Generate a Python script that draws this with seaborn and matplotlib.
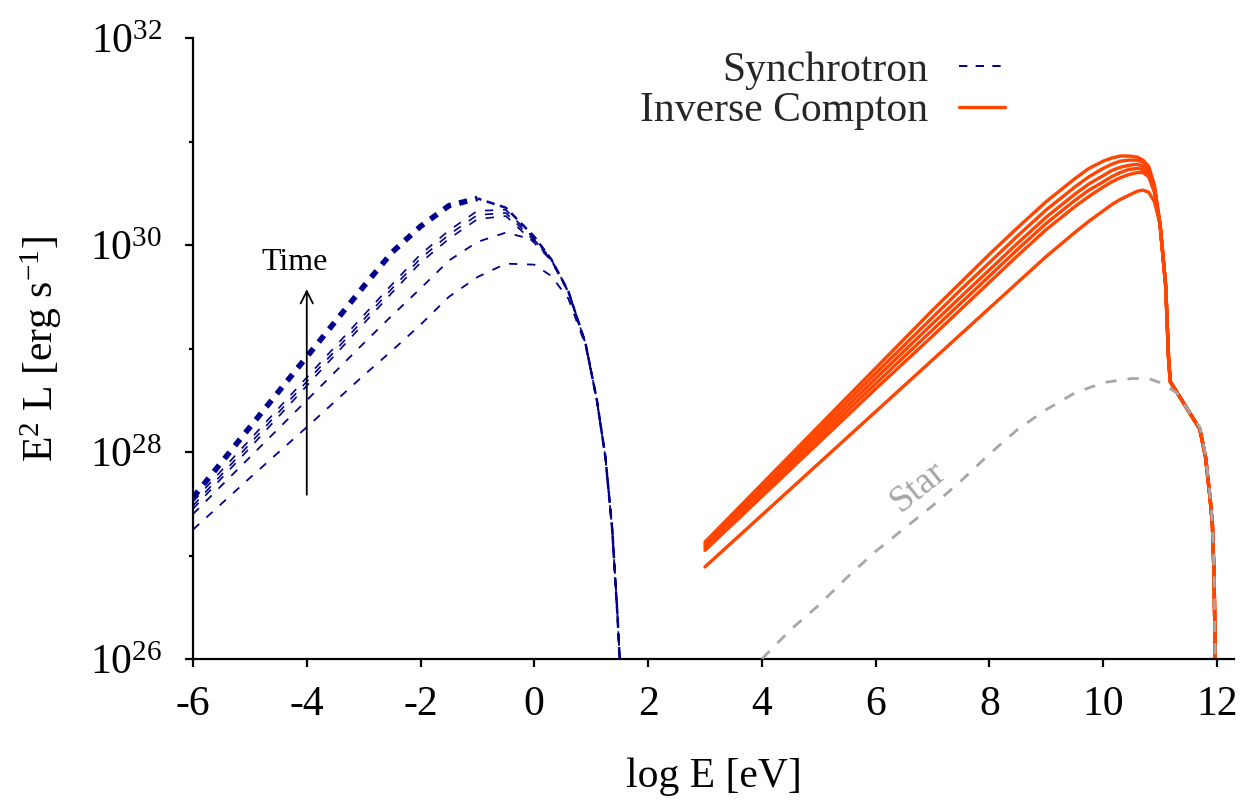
import numpy as np
import matplotlib
matplotlib.use("Agg")
import matplotlib.pyplot as plt
import seaborn as sns
from matplotlib.ticker import FixedLocator, FixedFormatter, NullFormatter, NullLocator
from matplotlib.lines import Line2D

# ---------------- data (log10 of E^2 L [erg/s]) ----------------
sync_x = [-6, -5, -4, -3, -2.5, -2, -1.5, -1.0, -0.5, 0.0, 0.3, 0.6, 0.9, 1.1, 1.25, 1.37, 1.46, 1.52]
sync_top = [27.56, 28.24, 28.92, 29.60, 29.93, 30.18, 30.38, 30.45, 30.36, 30.08, 29.86, 29.55, 29.05, 28.50, 27.95, 27.25, 26.44, 25.80]
sync_k1 = [27.52, 28.12, 28.72, 29.32, 29.62, 29.91, 30.14, 30.33, 30.34, 30.06, 29.86, 29.55, 29.05, 28.50, 27.95, 27.25, 26.44, 25.80]
sync_k2 = [27.48, 28.08, 28.68, 29.28, 29.58, 29.87, 30.10, 30.29, 30.31, 30.04, 29.85, 29.55, 29.05, 28.50, 27.95, 27.25, 26.44, 25.80]
sync_k3 = [27.45, 28.04, 28.64, 29.24, 29.54, 29.83, 30.06, 30.25, 30.28, 30.02, 29.85, 29.55, 29.05, 28.50, 27.95, 27.25, 26.44, 25.80]
sync_s = [27.40, 27.95, 28.50, 29.05, 29.32, 29.58, 29.85, 30.03, 30.12, 30.05, 29.85, 29.54, 29.05, 28.50, 27.95, 27.25, 26.44, 25.80]
sync_b = [27.25, 27.75, 28.24, 28.74, 28.98, 29.23, 29.50, 29.69, 29.82, 29.81, 29.70, 29.48, 29.03, 28.50, 27.95, 27.25, 26.44, 25.80]

ic_x = [3, 4, 5, 6, 7, 7.5, 8, 8.5, 9, 9.5, 9.75, 10.0, 10.15, 10.3, 10.45, 10.6, 10.7, 10.8, 10.9,
        11.0, 11.1, 11.15, 11.18, 11.7, 11.8, 11.88, 11.92, 11.95, 11.97, 11.98]
ic_tail = [30.20, 29.60, 28.90, 28.68, 28.22, 27.95, 27.55, 27.30, 26.80, 26.00, 25.00]
ic_1 = [27.13, 27.69, 28.25, 28.81, 29.37, 29.64, 29.91, 30.17, 30.42, 30.64, 30.74, 30.81, 30.84, 30.86, 30.86, 30.85, 30.82, 30.76, 30.58] + ic_tail
ic_2 = [27.11, 27.66, 28.21, 28.76, 29.30, 29.57, 29.83, 30.09, 30.34, 30.56, 30.66, 30.74, 30.78, 30.81, 30.82, 30.82, 30.80, 30.74, 30.57] + ic_tail
ic_3 = [27.09, 27.63, 28.17, 28.71, 29.24, 29.50, 29.76, 30.02, 30.27, 30.49, 30.59, 30.67, 30.72, 30.75, 30.77, 30.78, 30.76, 30.71, 30.55] + ic_tail
ic_4 = [27.07, 27.60, 28.13, 28.66, 29.18, 29.44, 29.70, 29.96, 30.21, 30.43, 30.53, 30.61, 30.66, 30.70, 30.73, 30.74, 30.73, 30.69, 30.53] + ic_tail
ic_5 = [27.05, 27.57, 28.09, 28.61, 29.12, 29.38, 29.64, 29.90, 30.15, 30.37, 30.47, 30.56, 30.61, 30.65, 30.68, 30.70, 30.70, 30.66, 30.51] + ic_tail
ic_6 = [26.89, 27.39, 27.89, 28.39, 28.89, 29.14, 29.39, 29.64, 29.89, 30.12, 30.23, 30.33, 30.39, 30.44, 30.48, 30.52, 30.53, 30.51, 30.42] + ic_tail

star_x = [4.0, 4.5, 5.0, 5.5, 6.0, 6.5, 7.0, 7.5, 8.0, 8.5, 9.0, 9.5, 10.0, 10.5, 10.8, 11.0, 11.3,
          11.5, 11.7, 11.8, 11.88, 11.92, 11.95, 11.97, 11.98]
star_y = [26.00, 26.28, 26.52, 26.79, 27.04, 27.26, 27.48, 27.72, 27.98, 28.22, 28.41, 28.57, 28.67,
          28.71, 28.71, 28.67, 28.57, 28.40, 28.24, 27.97, 27.57, 27.32, 26.85, 26.00, 25.50]

x_ticks = [-6, -4, -2, 0, 2, 4, 6, 8, 10, 12]
y_major = [26, 28, 30, 32]   # decades (log10), labelled as powers of ten
y_minor = [27, 29, 31]

# ---------------- style ----------------
sns.set_theme(style="ticks")
plt.rcParams['font.family'] = ['Liberation Serif', 'DejaVu Serif']
plt.rcParams['mathtext.fontset'] = 'custom'
plt.rcParams['mathtext.rm'] = 'Liberation Serif'
plt.rcParams['mathtext.it'] = 'Liberation Serif:italic'
plt.rcParams['mathtext.bf'] = 'Liberation Serif:bold'
plt.rcParams['lines.scale_dashes'] = False

FS = 30
SYNC_C = '#00008C'
IC_C = '#FF4500'
STAR_C = '#A6A6A6'

fig = plt.figure(figsize=(12.43, 8.02), dpi=100)
ax = fig.add_axes([193 / 1243, 1 - 659 / 802, (1234 - 193) / 1243, (659 - 38) / 802])

thin_dash = (0, (6, 7))
for vals, lw in [(sync_b, 1.3), (sync_s, 1.3), (sync_k3, 1.2), (sync_k2, 1.2), (sync_k1, 1.2)]:
    sns.lineplot(x=sync_x, y=vals, ax=ax, color=SYNC_C, linewidth=lw,
                 linestyle=thin_dash, sort=False, estimator=None, legend=False)
# the latest spectra overlap: thick dashes up to the peak, thinner afterwards
k = 8
sns.lineplot(x=sync_x[:k], y=sync_top[:k], ax=ax, color=SYNC_C, linewidth=4.0,
             linestyle=(0, (6, 6)), sort=False, estimator=None, legend=False)
sns.lineplot(x=sync_x[k - 1:], y=sync_top[k - 1:], ax=ax, color=SYNC_C, linewidth=1.8,
             linestyle=(3, (6, 4)), sort=False, estimator=None, legend=False)

for vals in [ic_6, ic_5, ic_4, ic_3, ic_2, ic_1]:
    sns.lineplot(x=ic_x, y=vals, ax=ax, color=IC_C, linewidth=2.4,
                 sort=False, estimator=None, legend=False)

sns.lineplot(x=star_x, y=star_y, ax=ax, color=STAR_C, linewidth=2.0,
             linestyle=(0, (8, 8)), sort=False, estimator=None, legend=False, zorder=5)

# ---------------- axes ----------------
ax.set_xlim(-6, 12.3)
ax.set_ylim(26, 32)
for s in ['top', 'right']:
    ax.spines[s].set_visible(False)
for s in ['left', 'bottom']:
    ax.spines[s].set_linewidth(1.6)
    ax.spines[s].set_color('black')

ax.set_xlabel('log E [eV]', fontsize=FS, labelpad=24, color='black')
ax.set_ylabel(r'E$^2$ L [erg s$^{-1}$]', fontsize=FS, labelpad=19, color='black')

# annotations
ax.annotate('', xy=(-4, 29.60), xytext=(-4, 27.56),
            arrowprops=dict(arrowstyle='->', color='black', lw=1.3, mutation_scale=22))
ax.text(-4.22, 29.83, 'Time', fontsize=23, ha='center', va='center', color='black')
ax.text(6.74, 27.66, 'Star', fontsize=27, ha='center', va='center', color=STAR_C,
        rotation=39, rotation_mode='anchor')

handles = [Line2D([], [], color=SYNC_C, linewidth=1.4, linestyle=(0, (6, 6))),
           Line2D([], [], color=IC_C, linewidth=2.4)]
leg = ax.legend(handles, ['Synchrotron', 'Inverse Compton'], loc='upper right',
                bbox_to_anchor=((1005 - 193) / 1041, (659 - 51) / 621),
                frameon=False, markerfirst=False, fontsize=FS, handlelength=1.1,
                handletextpad=0.75, labelspacing=0.05, borderaxespad=0, borderpad=0)

# ticks
ax.xaxis.set_major_locator(FixedLocator(x_ticks))
ax.xaxis.set_major_formatter(FixedFormatter([str(t) for t in x_ticks]))
ax.xaxis.set_minor_locator(NullLocator())
ax.yaxis.set_major_locator(FixedLocator(y_major))
ax.yaxis.set_major_formatter(FixedFormatter([r'$10^{%d}$' % v for v in y_major]))
ax.yaxis.set_minor_locator(FixedLocator(y_minor))
ax.yaxis.set_minor_formatter(NullFormatter())
ax.tick_params(axis='x', which='major', direction='out', length=6, width=1.6,
               labelsize=FS, pad=13, colors='black')
ax.tick_params(axis='y', which='major', direction='out', length=6, width=1.6,
               labelsize=FS, pad=16, colors='black')
ax.tick_params(axis='y', which='minor', direction='out', length=3, width=1.6, colors='black')

fig.savefig('out.png', dpi=100)
